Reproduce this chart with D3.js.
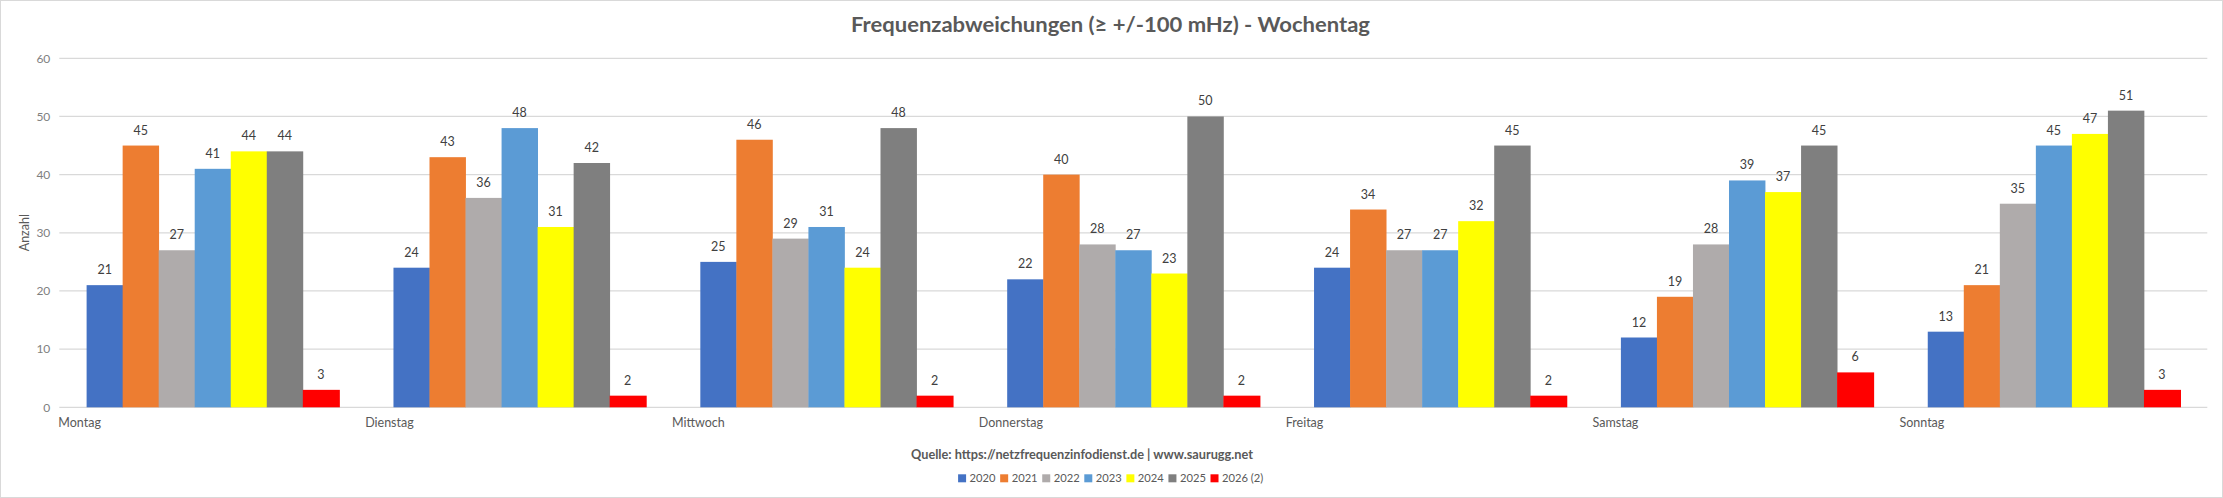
<!DOCTYPE html>
<html><head><meta charset="utf-8">
<script src="https://cdn.jsdelivr.net/npm/d3@7"></script>
<style>
html,body{margin:0;padding:0;background:#fff;}
svg{display:block;}
text{font-family:Lato, "Open Sans", sans-serif;}
</style></head>
<body><svg id="chart" width="2223" height="498"></svg>
<script>
const categories = ["Montag","Dienstag","Mittwoch","Donnerstag","Freitag","Samstag","Sonntag"];
const seriesNames = ["2020","2021","2022","2023","2024","2025","2026 (2)"];
const seriesColors = ["#4472C4","#ED7D31","#AFABAB","#5B9BD5","#FFFF00","#7F7F7F","#FF0000"];
const s2020 = [21,24,25,22,24,12,13];
const s2021 = [45,43,46,40,34,19,21];
const s2022 = [27,36,29,28,27,28,35];
const s2023 = [41,48,31,27,27,39,45];
const s2024 = [44,31,24,23,32,37,47];
const s2025 = [44,42,48,50,45,45,51];
const s2026 = [3,2,2,2,2,6,3];
const yTicks = [0,10,20,30,40,50,60];
const chartTitle = "Frequenzabweichungen (≥ +/-100 mHz) - Wochentag";
const sourceText = "Quelle: https://netzfrequenzinfodienst.de | www.saurugg.net";
const yTitle = "Anzahl";

(function(){
const series = [s2020,s2021,s2022,s2023,s2024,s2025,s2026];
const W = 2223, H = 498;
const svg = d3.select("#chart");
svg.append("rect").attr("x",0.5).attr("y",0.5).attr("width",W-1).attr("height",H-1)
  .attr("fill","#fff").attr("stroke","#d9d9d9");

const pl = 59.3, pr = 2207.3, pt = 58.3, pb = 407.3;
const x = d3.scaleBand().domain(categories).range([pl,pr]).paddingInner(0.178).paddingOuter(0.089);
const step = x.step();
const xs = d3.scaleBand().domain(seriesNames).range([0, x.bandwidth()]);
const y = d3.scaleLinear().domain([0,60]).range([pb, pt]);

svg.append("g").selectAll("line").data(yTicks).join("line")
  .attr("x1",pl).attr("x2",pr)
  .attr("y1",d=>y(d)).attr("y2",d=>y(d))
  .attr("stroke","#d9d9d9").attr("stroke-width",1.2);

const yAxis = d3.axisLeft(y).tickValues(yTicks).tickSize(0).tickPadding(9);
const ya = svg.append("g").attr("transform",`translate(${pl},0)`).call(yAxis);
ya.select(".domain").remove();
ya.selectAll("text").attr("font-size",12).attr("fill","#7f7f7f").attr("font-family","Lato, sans-serif");

const groups = svg.append("g").selectAll("g").data(categories).join("g")
  .attr("transform",d=>`translate(${x(d)},0)`);
groups.each(function(cat,ci){
  const g = d3.select(this);
  seriesNames.forEach((sn,si)=>{
    const v = series[si][ci];
    const bw = xs.bandwidth() + (si===seriesNames.length-1 ? 1 : 0.4);
    g.append("rect").attr("x",xs(sn)).attr("y",y(v)).attr("width",bw)
      .attr("height",y(0)-y(v)).attr("fill",seriesColors[si]);
    g.append("text").attr("x",xs(sn)+xs.bandwidth()/2).attr("y",y(v)-11)
      .attr("text-anchor","middle").attr("font-size",12.5).attr("fill","#404040").text(v);
  });
});

svg.append("g").selectAll("text").data(categories).join("text")
  .attr("x",(d,i)=>pl + i*step - 1).attr("y",427)
  .attr("font-size",12.5).attr("fill","#595959").text(d=>d);

svg.append("text").attr("transform",`translate(29,232.7) rotate(-90)`)
  .attr("text-anchor","middle").attr("font-size",12.5).attr("fill","#595959").text(yTitle);

svg.append("text").attr("x",1110.5).attr("y",32).attr("text-anchor","middle")
  .attr("font-size",21).attr("font-weight",700).attr("fill","#595959")
  .attr("textLength",519).attr("lengthAdjust","spacingAndGlyphs").text(chartTitle);

svg.append("text").attr("x",1082).attr("y",459).attr("text-anchor","middle")
  .attr("font-size",13).attr("font-weight",700).attr("fill","#595959")
  .attr("textLength",342).attr("lengthAdjust","spacingAndGlyphs").text(sourceText);

const lg = svg.append("g");
let lx = 965.3;
const legendY = 478.3;
seriesNames.forEach((sn,i)=>{
  lg.append("rect").attr("x",lx).attr("y",legendY-4).attr("width",8).attr("height",8).attr("fill",seriesColors[i]);
  const t = lg.append("text").attr("x",lx+11.5).attr("y",legendY+4).attr("font-size",11.2)
    .attr("fill","#595959").text(sn);
  const w = t.node().getComputedTextLength();
  lx += 11.5 + w + 4.6;
});
const bb = lg.node().getBBox();
lg.attr("transform",`translate(${1110.7 - (bb.x + bb.width/2)},0)`);
})();
</script></body></html>
